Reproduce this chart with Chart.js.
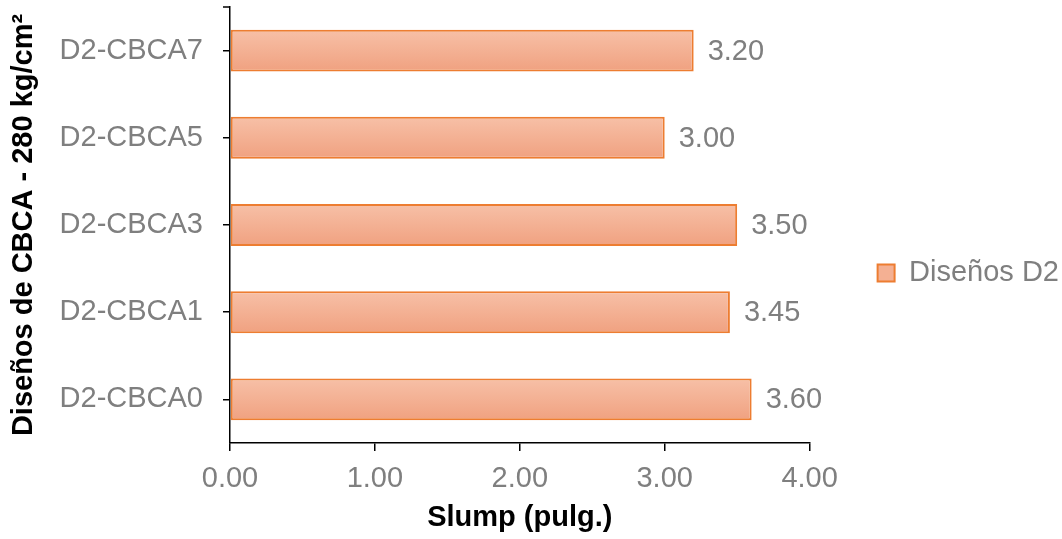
<!DOCTYPE html>
<html>
<head>
<meta charset="utf-8">
<script src="https://cdn.jsdelivr.net/npm/chart.js@4"></script>
<style>
  html, body { margin: 0; padding: 0; background: #fff; }
  #wrap { width: 1062px; height: 539px; }
</style>
</head>
<body>
<div id="wrap"><canvas id="slumpChart"></canvas></div>
<script>
// categories, bottom to top as in the picture
const designs = ["D2-CBCA0", "D2-CBCA1", "D2-CBCA3", "D2-CBCA5", "D2-CBCA7"];
const slump = [3.60, 3.45, 3.50, 3.00, 3.20];
const seriesName = "Diseños D2";
const xTicks = [0, 1, 2, 3, 4];

const FONT = "'Liberation Sans', Arial, sans-serif";
const GREY = "#7f7f7f";

// gives each bar its own top-to-bottom gradient
const barGradient = {
    id: "barGradient",
    beforeDatasetsDraw(chart) {
        const ctx = chart.ctx;
        chart.getDatasetMeta(0).data.forEach(function (bar) {
            const h = bar.height;
            const g = ctx.createLinearGradient(0, bar.y - h / 2, 0, bar.y + h / 2);
            g.addColorStop(0, "#f7c0a7");
            g.addColorStop(1, "#f0a180");
            bar.options = Object.assign({}, bar.options, { backgroundColor: g });
        });
    }
};

// value labels at the end of each bar
const valueLabels = {
    id: "valueLabels",
    afterDatasetsDraw(chart) {
        const ctx = chart.ctx;
        ctx.save();
        ctx.font = "29px " + FONT;
        ctx.fillStyle = GREY;
        ctx.textAlign = "left";
        ctx.textBaseline = "middle";
        chart.getDatasetMeta(0).data.forEach(function (bar, i) {
            ctx.fillText(slump[i].toFixed(2), bar.x + 14, bar.y + 1);
        });
        ctx.restore();
    }
};

// small cap on top of the category axis
const axisCap = {
    id: "axisCap",
    afterDraw(chart) {
        const a = chart.chartArea;
        const ctx = chart.ctx;
        ctx.save();
        ctx.strokeStyle = "#000";
        ctx.lineWidth = 1.5;
        ctx.beginPath();
        ctx.moveTo(a.left - 7, a.top);
        ctx.lineTo(a.left, a.top);
        ctx.stroke();
        ctx.restore();
    }
};

Chart.defaults.font.family = FONT;

new Chart(document.getElementById("slumpChart").getContext("2d"), {
    type: "bar",
    data: {
        labels: designs,
        datasets: [{
            label: seriesName,
            data: slump,
            backgroundColor: "#f4b093",
            borderColor: "#ed7d31",
            borderWidth: 2,
            borderSkipped: false,
            barPercentage: 0.48,
            categoryPercentage: 1
        }]
    },
    options: {
        indexAxis: "y",
        responsive: true,
        maintainAspectRatio: false,
        animation: false,
        layout: { padding: { top: 7, right: -7, bottom: 0, left: 7 } },
        scales: {
            x: {
                min: 0,
                max: 4,
                afterBuildTicks: function (axis) {
                    axis.ticks = xTicks.map(function (v) { return { value: v }; });
                },
                afterFit: function (scale) { scale.height = 96; },
                border: { display: true, color: "#000", width: 1.5 },
                grid: { drawOnChartArea: false, drawTicks: true, tickLength: 8, color: "#000", lineWidth: 1.5 },
                ticks: {
                    color: GREY,
                    font: { size: 29 },
                    padding: 11,
                    callback: function (v) { return Number(v).toFixed(2); }
                },
                title: {
                    display: true,
                    text: "Slump (pulg.)",
                    color: "#000",
                    font: { size: 29, weight: "bold" },
                    padding: { top: 4, bottom: 4 }
                }
            },
            y: {
                reverse: true,
                offset: true,
                afterFit: function (scale) {
                    scale.width = 223;
                    scale.paddingTop = 0;
                    scale.paddingBottom = 0;
                },
                border: { display: true, color: "#000", width: 1.5 },
                grid: { offset: false, drawOnChartArea: false, drawTicks: true, tickLength: 7, color: "#000", lineWidth: 1.5 },
                ticks: { color: GREY, font: { size: 29 }, padding: 20 },
                title: {
                    display: true,
                    text: "Diseños de CBCA - 280 kg/cm²",
                    color: "#000",
                    font: { size: 29, weight: "bold" },
                    padding: { top: 0, bottom: 10 }
                }
            }
        },
        plugins: {
            legend: {
                position: "right",
                labels: {
                    color: GREY,
                    font: { size: 29 },
                    boxWidth: 17,
                    boxHeight: 17,
                    padding: 68
                }
            },
            tooltip: { enabled: false }
        }
    },
    plugins: [barGradient, valueLabels, axisCap]
});
</script>
</body>
</html>
